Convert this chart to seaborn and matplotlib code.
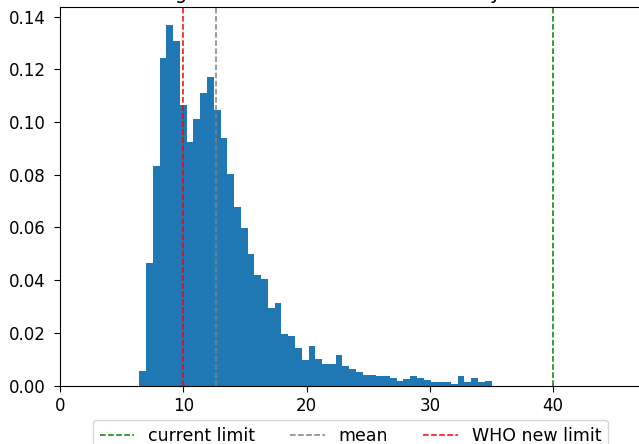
import numpy as np
import pandas as pd
import matplotlib
matplotlib.use("Agg")
import matplotlib.pyplot as plt
import seaborn as sns

# Density per bin (52 equal-width bins)
bin_start = 6.42
bin_end = 35.0
density = [
    0.0057, 0.0464, 0.0835, 0.1242, 0.1367, 0.1309, 0.1064, 0.0926, 0.1012, 0.1110,
    0.1169, 0.1044, 0.0941, 0.0802, 0.0676, 0.0598, 0.0498, 0.0420, 0.0405, 0.0294,
    0.0314, 0.0196, 0.0188, 0.0143, 0.0097, 0.0149, 0.0103, 0.0083, 0.0083, 0.0115,
    0.0076, 0.0063, 0.0052, 0.0042, 0.0042, 0.0035, 0.0035, 0.0028, 0.0018, 0.0024,
    0.0037, 0.0028, 0.0020, 0.0015, 0.0015, 0.0015, 0.0006, 0.0037, 0.0015, 0.0028,
    0.0015, 0.0018,
]

current_limit = 40
mean_value = 12.67
who_limit = 10

x_ticks = [0, 10, 20, 30, 40]
y_ticks = [0.00, 0.02, 0.04, 0.06, 0.08, 0.10, 0.12, 0.14]

edges = np.linspace(bin_start, bin_end, len(density) + 1)
df = pd.DataFrame({"value": (edges[:-1] + edges[1:]) / 2, "density": density})

plt.rcParams["font.size"] = 12
plt.rcParams["xtick.major.size"] = 4.3
plt.rcParams["ytick.major.size"] = 4.3
plt.rcParams["ytick.major.pad"] = 6

fig = plt.figure(figsize=(6.39, 4.44), dpi=100)
# axes run slightly past the right edge, like the cropped original
ax = fig.add_axes([0.094, 0.1313, 0.9086, 0.8523])

sns.histplot(data=df, x="value", weights="density", bins=edges.tolist(),
             stat="count", element="step", fill=True, color="#1f77b4",
             alpha=1, linewidth=0, ax=ax)

ax.axvline(current_limit, color="green", ls="--", lw=1.1, label="current limit")
ax.axvline(mean_value, color="grey", ls="--", lw=1.1, label="mean")
ax.axvline(who_limit, color="red", ls="--", lw=1.1, label="WHO new limit")

ax.set_xlim(0, 47.1)
ax.set_ylim(0, 0.1435)
ax.set_xticks(x_ticks)
ax.set_yticks(y_ticks)
ax.set_yticklabels([f"{v:.2f}" for v in y_ticks])
ax.set_xlabel("")
ax.set_ylabel("")
# title sits just above the top edge; only its descenders show
ax.set_title("Histogram of the NO2 annual mean by station", fontsize=14)

ax.legend(loc="upper center", bbox_to_anchor=(0.5, -0.067), ncol=3,
          fontsize=12.5)

fig.savefig("out.png", dpi=100)
